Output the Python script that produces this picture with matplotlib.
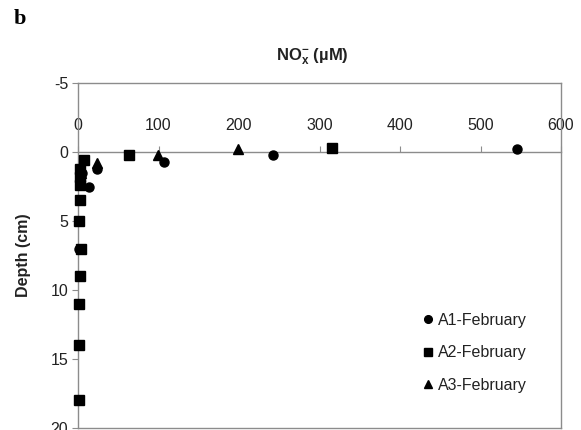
import matplotlib
matplotlib.use("Agg")
import matplotlib.pyplot as plt

# -------------------------------------------------------
# Data: NOx- concentration (uM) vs sediment depth (cm)
# -------------------------------------------------------

A1_NOX   = [545, 242, 107, 24, 14, 5, 3, 1]
A1_DEPTH = [-0.2, 0.2, 0.7, 1.2, 2.5, 1.5, 2.0, 7.0]

A2_NOX   = [316, 63, 7, 3, 2, 3, 2, 1, 4, 2, 1, 1, 1]
A2_DEPTH = [-0.3, 0.2, 0.6, 1.2, 1.8, 2.4, 3.5, 5, 7, 9, 11, 14, 18]

A3_NOX   = [199, 99, 24, 4]
A3_DEPTH = [-0.2, 0.2, 0.8, 1.5]

SERIES = [
    ("A1-February", A1_NOX, A1_DEPTH, "o"),
    ("A2-February", A2_NOX, A2_DEPTH, "s"),
    ("A3-February", A3_NOX, A3_DEPTH, "^"),
]

X_TICKS = [0, 100, 200, 300, 400, 500, 600]
Y_TICKS = [-5, 0, 5, 10, 15, 20]

GRAY = "#8c8c8c"
TEXT = "#222222"

plt.rcParams["font.family"] = ["Liberation Sans", "DejaVu Sans"]
plt.rcParams["axes.unicode_minus"] = False
plt.rcParams["mathtext.fontset"] = "custom"
plt.rcParams["mathtext.bf"] = "Liberation Sans:bold"
plt.rcParams["mathtext.rm"] = "Liberation Sans"

fig = plt.figure(figsize=(5.81, 4.30), dpi=100)
ax = fig.add_axes([78 / 581, 2 / 430, (561 - 78) / 581, (428 - 83) / 430])

for label, xs, ys, mk in SERIES:
    ax.plot(xs, ys, linestyle="none", marker=mk, color="black",
            markersize=6.5, label=label, clip_on=False, zorder=4)

ax.set_xlim(0, 600)
ax.set_ylim(20, -5)

# x axis sits on depth 0, labels above it
ax.spines["top"].set_position(("data", 0))
ax.xaxis.set_ticks_position("top")
ax.set_xticks(X_TICKS)
ax.tick_params(axis="x", direction="out", length=4, width=0.8, color=GRAY,
               pad=10, labelsize=11.5, labelcolor=TEXT)
ax.axhline(-5, color=GRAY, lw=1.0, clip_on=False, zorder=1)

ax.set_yticks(Y_TICKS)
ax.tick_params(axis="y", direction="out", length=4, width=0.8, color=GRAY,
               pad=3, labelsize=11.5, labelcolor=TEXT)

for side in ["left", "right", "top", "bottom"]:
    ax.spines[side].set_color(GRAY)
    ax.spines[side].set_linewidth(1.0)

ax.set_ylabel("Depth (cm)", fontsize=11.5, fontweight="bold", color=TEXT,
              labelpad=14)

fig.text(312 / 581, 1 - 57 / 430, r"$\mathbf{NO_x^{-}}$ (µM)",
         ha="center", va="center", fontsize=12, fontweight="bold", color=TEXT)

fig.text(14 / 581, 1 - 19 / 430, "b", ha="left", va="center",
         fontsize=16, fontweight="bold", family="Liberation Serif")

ax.legend(loc="center left", bbox_to_anchor=(414 / 581, 1 - 353 / 430),
          bbox_transform=fig.transFigure, frameon=False, fontsize=11.5,
          handlelength=0.8, handletextpad=0.2, labelspacing=1.1,
          markerscale=0.85, borderpad=0, labelcolor=TEXT)

fig.savefig("out.png", dpi=100)
